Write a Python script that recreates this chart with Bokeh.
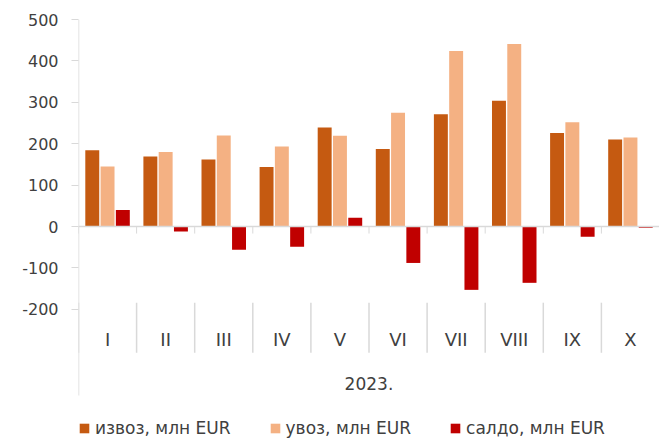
from bokeh.plotting import figure
from bokeh.models import (ColumnDataSource, FactorRange, Range1d, FixedTicker,
                          Span, Legend, LegendItem)
from bokeh.transform import dodge
from bokeh.core.properties import value
from bokeh.embed import file_html
from bokeh.resources import INLINE

months = ["I", "II", "III", "IV", "V", "VI", "VII", "VIII", "IX", "X"]
export_vals = [184, 169, 162, 144, 239, 187, 271, 304, 226, 210]
import_vals = [145, 180, 220, 193, 219, 275, 424, 441, 252, 215]
saldo_vals = [40, -12, -56, -49, 21, -88, -153, -136, -25, -3]
year_label = "2023."
y_ticks = [-200, -100, 0, 100, 200, 300, 400, 500]
series_names = ["извоз, млн EUR", "увоз, млн EUR", "салдо, млн EUR"]

C_EXP = "#C55A11"
C_IMP = "#F4B183"
C_SAL = "#C00000"
GRID = "#D9D9D9"
TXT = "#404040"
FONT = "DejaVu Sans"

src = ColumnDataSource(dict(month=months, exp=export_vals, imp=import_vals,
                            sal=saldo_vals))

p = figure(width=659, height=438, x_range=FactorRange(*months, range_padding=0),
           y_range=Range1d(-512, 500), output_backend="svg",
           toolbar_location=None, x_axis_location=None,
           min_border_left=78, min_border_top=19, min_border_bottom=0,
           min_border_right=0)
p.outline_line_color = None
p.xgrid.visible = False
p.ygrid.visible = False
p.background_fill_color = "white"
p.border_fill_color = "white"

yax = p.yaxis[0]
yax.ticker = FixedTicker(ticks=y_ticks)
yax.major_label_overrides = {t: str(t) for t in y_ticks}
yax.axis_line_color = None
yax.major_tick_line_color = GRID
yax.major_tick_out = 7
yax.major_tick_in = 0
yax.minor_tick_line_color = None
yax.major_label_text_font = FONT
yax.major_label_text_font_size = "16px"
yax.major_label_text_color = TXT
yax.major_label_standoff = 13

# value axis line (ends above the legend)
p.segment(x0=dodge("month", -0.5, range=p.x_range), y0=-408,
          x1=dodge("month", -0.5, range=p.x_range), y1=500,
          source=ColumnDataSource(dict(month=months[:1])),
          line_color=GRID, line_width=1.5)

p.add_layout(Span(location=0, dimension="width", line_color=GRID, line_width=1.5))

# tick marks at category boundaries on the zero line and label separators
p.segment(x0=dodge("month", -0.5, range=p.x_range), y0=0,
          x1=dodge("month", -0.5, range=p.x_range), y1=-17,
          source=src, line_color=GRID, line_width=1)
p.segment(x0=dodge("month", -0.5, range=p.x_range), y0=-184,
          x1=dodge("month", -0.5, range=p.x_range), y1=-305,
          source=src, line_color=GRID, line_width=1.5)

w = 0.24
r1 = p.vbar(x=dodge("month", -0.263, range=p.x_range), top="exp", width=w,
            source=src, fill_color=C_EXP, line_color=None)
r2 = p.vbar(x=dodge("month", 0.0, range=p.x_range), top="imp", width=w,
            source=src, fill_color=C_IMP, line_color=None)
r3 = p.vbar(x=dodge("month", 0.263, range=p.x_range), top="sal", width=w,
            source=src, fill_color=C_SAL, line_color=None)

# category labels
p.text(x="month", y=-272, text="month", source=src, text_align="center",
       text_baseline="middle", text_font=value(FONT), text_font_size="18px",
       text_color=TXT)
p.text(x=[months[4]], y=[-380], text=[year_label], x_offset=29,
       text_align="center", text_baseline="middle", text_font=value(FONT),
       text_font_size="17px", text_color=TXT)

legend = Legend(items=[LegendItem(label=series_names[0], renderers=[r1]),
                       LegendItem(label=series_names[1], renderers=[r2]),
                       LegendItem(label=series_names[2], renderers=[r3])],
                orientation="horizontal", location=(0, 0),
                label_text_font=FONT, label_text_font_size="17px",
                label_text_color=TXT, glyph_width=12, glyph_height=12,
                label_height=20, label_standoff=5, spacing=38, padding=0,
                margin=0, border_line_color=None, background_fill_alpha=0)
p.add_layout(legend, "center")

open("out.html", "w").write(file_html(p, INLINE))
